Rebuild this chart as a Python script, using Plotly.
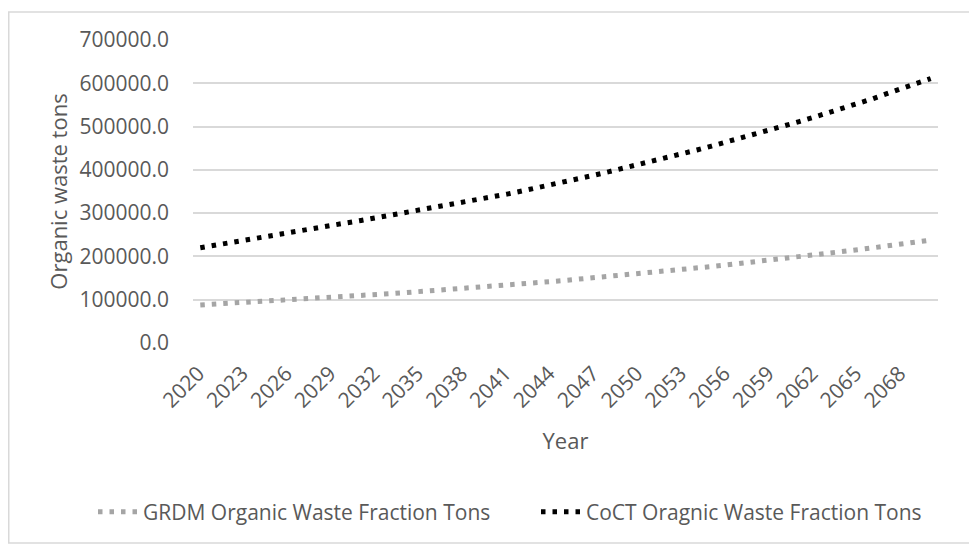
import plotly.graph_objects as go

years = list(range(2020, 2071))

grdm_tons = [
    88000, 89800, 91600, 93400, 95300, 97200, 99200, 101200, 103200, 105300,
    107400, 109500, 111700, 114000, 116300, 118600, 121000, 123400, 125900, 128400,
    131000, 133600, 136300, 139100, 141900, 144700, 147600, 150600, 153600, 156700,
    159900, 163100, 166400, 169700, 173100, 176600, 180200, 183800, 187500, 191200,
    195000, 198900, 202900, 207000, 211200, 215400, 219700, 224100, 228600, 233200,
    237800,
]

coct_tons = [
    220000, 226000, 232000, 238000, 244000, 250000, 256000, 261000, 266000, 272000,
    277500, 283000, 289000, 294500, 300000, 306000, 311500, 318000, 324500, 331000,
    337500, 344000, 351000, 358000, 365500, 373000, 380500, 388000, 396000, 404000,
    412000, 420500, 429000, 437000, 446000, 455000, 464000, 473500, 483000, 492500,
    502000, 511500, 521500, 531500, 541500, 552000, 564000, 576000, 588000, 600000,
    611000,
]

tick_years = years[::3]
tick_labels = [str(y) for y in tick_years]
y_ticks = [0, 100000, 200000, 300000, 400000, 500000, 600000, 700000]

FONT = "Open Sans"
GREY_TXT = "#595959"

# figure geometry (page body has an 8px margin, so the figure is 8px smaller)
W, H = 969, 537
L, R, T, B = 185, 39, 32, 202
PW = W - L - R          # plot width
PH = H - T - B          # plot height
BOTTOM = T + PH


def px_x(px):
    return (px - L) / PW


def px_y(py):
    return (BOTTOM - py) / PH


fig = go.Figure()
fig.add_trace(go.Scatter(
    x=years, y=grdm_tons, mode="lines",
    name="GRDM Organic Waste Fraction Tons",
    line=dict(color="#A5A5A5", width=5, dash="4.5px,7px"),
))
fig.add_trace(go.Scatter(
    x=years, y=coct_tons, mode="lines",
    name="CoCT Oragnic Waste Fraction Tons",
    line=dict(color="#000000", width=5, dash="4.5px,7px"),
))

fig.update_layout(
    width=W, height=H,
    margin=dict(l=L, r=R, t=T, b=B, autoexpand=False),
    paper_bgcolor="white", plot_bgcolor="white",
    font=dict(family=FONT, color=GREY_TXT, size=21),
    showlegend=True,
    legend=dict(
        orientation="h", xref="paper", yref="paper",
        x=px_x(85), xanchor="left",
        y=px_y(504), yanchor="middle",
        font=dict(size=21, color=GREY_TXT, family=FONT),
        itemwidth=40, entrywidth=388, entrywidthmode="pixels",
        bgcolor="rgba(0,0,0,0)",
    ),
    xaxis=dict(
        range=[2019.5, 2070.5],
        tickmode="array", tickvals=tick_years, ticktext=tick_labels,
        tickangle=-45, showgrid=False, zeroline=False, showline=False,
        ticks="", ticklabelstandoff=13, ticklabelshift=-2,
        tickfont=dict(size=21, color=GREY_TXT, family=FONT),
        title=dict(text="Year", font=dict(size=22, color=GREY_TXT, family=FONT), standoff=21),
    ),
    yaxis=dict(
        range=[0, 700000],
        tickmode="array", tickvals=y_ticks, tickformat=".1f",
        showgrid=True, gridcolor="#D9D9D9", gridwidth=1.5,
        zeroline=False, showline=False, ticks="", ticklabelstandoff=23,
        tickfont=dict(size=21, color=GREY_TXT, family=FONT),
        title=dict(text="Organic waste tons", font=dict(size=22, color=GREY_TXT, family=FONT), standoff=5),
    ),
    shapes=[dict(
        type="rect", xref="paper", yref="paper",
        x0=px_x(0.75), x1=px_x(967.5),
        y0=px_y(535), y1=px_y(4),
        line=dict(color="#D9D9D9", width=1.5), fillcolor="rgba(0,0,0,0)",
        layer="below",
    )],
)

fig.write_html("out.html")
